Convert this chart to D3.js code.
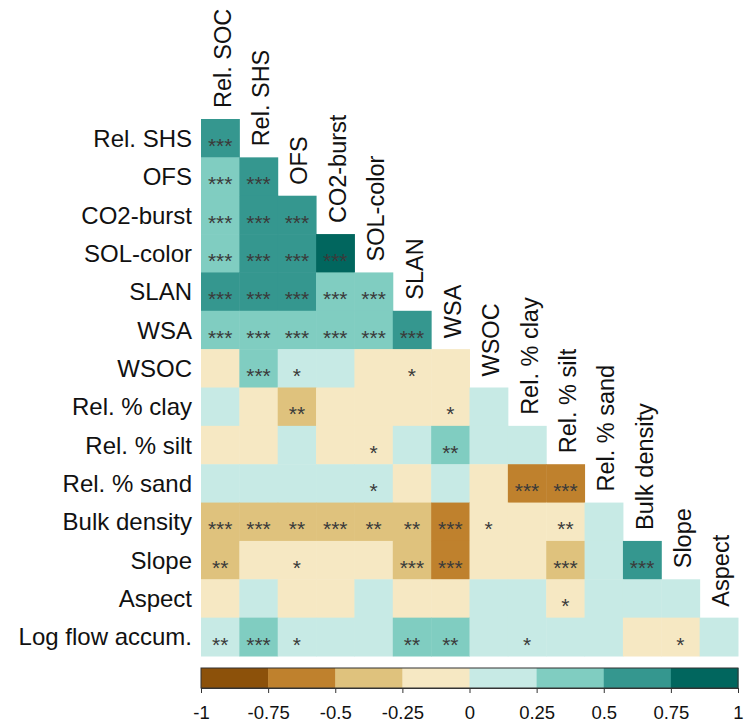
<!DOCTYPE html>
<html>
<head>
<meta charset="utf-8">
<script src="https://cdn.jsdelivr.net/npm/d3@7"></script>
<style>
  html, body { margin: 0; padding: 0; background: #fff; }
  svg { display: block; font-family: "Liberation Sans", Arial, sans-serif; }
</style>
</head>
<body>
<svg id="chart" width="752" height="725"></svg>
<script>
// ---- data ----
const variables = ["Rel. SOC", "Rel. SHS", "OFS", "CO2-burst", "SOL-color", "SLAN", "WSA",
  "WSOC", "Rel. % clay", "Rel. % silt", "Rel. % sand", "Bulk density", "Slope", "Aspect",
  "Log flow accum."];

// lower-triangle correlations: row i (variables[i], i>=1), columns 0..i-1
const corrRows = [
  [0.62],
  [0.45, 0.68],
  [0.41, 0.66, 0.61],
  [0.43, 0.64, 0.59, 0.81],
  [0.58, 0.60, 0.55, 0.44, 0.39],
  [0.46, 0.48, 0.42, 0.40, 0.37, 0.56],
  [-0.08, 0.33, 0.19, 0.12, -0.06, -0.18, -0.10],
  [0.07, -0.09, -0.31, -0.11, -0.13, -0.15, -0.20, 0.05],
  [-0.10, -0.07, 0.11, -0.12, -0.19, 0.09, 0.28, 0.06, 0.10],
  [0.08, 0.10, 0.06, 0.12, 0.18, -0.05, 0.08, -0.04, -0.72, -0.70],
  [-0.40, -0.42, -0.32, -0.38, -0.30, -0.33, -0.55, -0.17, -0.12, -0.24, 0.09],
  [-0.29, -0.14, -0.18, -0.12, -0.10, -0.36, -0.58, -0.08, -0.06, -0.37, 0.11, 0.63],
  [-0.05, 0.07, -0.09, -0.04, 0.06, -0.08, -0.11, 0.04, 0.08, -0.17, 0.05, 0.09, 0.12],
  [0.23, 0.34, 0.17, 0.13, 0.14, 0.28, 0.29, 0.12, 0.18, 0.09, 0.07, -0.11, -0.16, 0.10]
];

const sigRows = [
  ["***"],
  ["***", "***"],
  ["***", "***", "***"],
  ["***", "***", "***", "***"],
  ["***", "***", "***", "***", "***"],
  ["***", "***", "***", "***", "***", "***"],
  ["", "***", "*", "", "", "*", ""],
  ["", "", "**", "", "", "", "*", ""],
  ["", "", "", "", "*", "", "**", "", ""],
  ["", "", "", "", "*", "", "", "", "***", "***"],
  ["***", "***", "**", "***", "**", "**", "***", "*", "", "**", ""],
  ["**", "", "*", "", "", "***", "***", "", "", "***", "", "***"],
  ["", "", "", "", "", "", "", "", "", "*", "", "", ""],
  ["**", "***", "*", "", "", "**", "**", "", "*", "", "", "", "*", ""]
];

const binBreaks = [-0.75, -0.5, -0.25, 0, 0.25, 0.5, 0.75];
const binColors = ["#8c510a", "#bf812d", "#dfc27d", "#f6e8c3", "#c7eae5", "#80cdc1", "#35978f", "#01665e"];
const legendTicks = [-1, -0.75, -0.5, -0.25, 0, 0.25, 0.5, 0.75, 1];

// ---- layout ----
(function () {
const svg = d3.select("#chart");
const mLeft = 201, mRight = 738, mTop = 119, mBottom = 656;

const rowNames = variables.slice(1);
const colNames = variables.slice(0, -1);

const x = d3.scaleBand().domain(colNames).range([mLeft, mRight]).padding(0);
const y = d3.scaleBand().domain(rowNames).range([mTop, mBottom]).padding(0);
const color = d3.scaleThreshold().domain(binBreaks).range(binColors);

const cells = [];
corrRows.forEach((row, i) => {
  row.forEach((v, j) => {
    cells.push({ r: rowNames[i], c: colNames[j], v: v, s: sigRows[i][j] });
  });
});

const g = svg.append("g");
g.selectAll("rect.cell").data(cells).join("rect")
  .attr("class", "cell")
  .attr("x", d => x(d.c))
  .attr("y", d => y(d.r))
  .attr("width", x.bandwidth() + 0.5)
  .attr("height", y.bandwidth() + 0.5)
  .attr("fill", d => color(d.v));

g.selectAll("text.sig").data(cells.filter(d => d.s)).join("text")
  .attr("class", "sig")
  .attr("x", d => x(d.c) + x.bandwidth() / 2)
  .attr("y", d => y(d.r) + y.bandwidth() / 2)
  .attr("dy", "0.7em")
  .attr("text-anchor", "middle")
  .attr("font-size", 21)
  .attr("fill", "#3a3a3a")
  .text(d => d.s);

// row labels
svg.selectAll("text.rowlab").data(rowNames).join("text")
  .attr("class", "rowlab")
  .attr("x", 192)
  .attr("y", d => y(d) + y.bandwidth() / 2)
  .attr("dy", "0.36em")
  .attr("text-anchor", "end")
  .attr("font-size", 24)
  .attr("fill", "#111")
  .text(d => d);

// column labels (rotated, sitting on the diagonal)
svg.selectAll("text.collab").data(colNames).join("text")
  .attr("class", "collab")
  .attr("transform", (d, j) => {
    const cx = x(d) + x.bandwidth() / 2;
    const yy = (j === 0 ? mTop : y(rowNames[j - 1]) + y.bandwidth()) - 11;
    return `translate(${cx},${yy}) rotate(-90)`;
  })
  .attr("dy", "0.45em")
  .attr("text-anchor", "start")
  .attr("font-size", 23.5)
  .attr("fill", "#111")
  .text(d => d);

// ---- colour legend ----
const lx = d3.scaleLinear().domain([-1, 1]).range([mLeft, mRight]);
const legTop = 668, legH = 20;
const bins = binColors.map((c, k) => ({ c: c, a: k === 0 ? -1 : binBreaks[k - 1], b: k === binColors.length - 1 ? 1 : binBreaks[k] }));
svg.selectAll("rect.leg").data(bins).join("rect")
  .attr("class", "leg")
  .attr("x", d => lx(d.a))
  .attr("y", legTop)
  .attr("width", d => lx(d.b) - lx(d.a) + 0.5)
  .attr("height", legH)
  .attr("fill", d => d.c);
svg.append("rect")
  .attr("x", lx(-1)).attr("y", legTop)
  .attr("width", lx(1) - lx(-1)).attr("height", legH)
  .attr("fill", "none").attr("stroke", "#333").attr("stroke-width", 1);

const axis = svg.append("g")
  .attr("transform", `translate(0,${legTop + legH})`)
  .call(d3.axisBottom(lx).tickValues(legendTicks).tickSize(5).tickFormat(d => String(d)));
axis.select(".domain").attr("stroke", "#333");
axis.selectAll(".tick line").attr("stroke", "#333");
axis.selectAll(".tick text")
  .attr("y", 18)
  .attr("font-size", 18.5)
  .attr("font-family", "'Liberation Sans', Arial, sans-serif")
  .attr("fill", "#111");
})();
</script>
</body>
</html>
